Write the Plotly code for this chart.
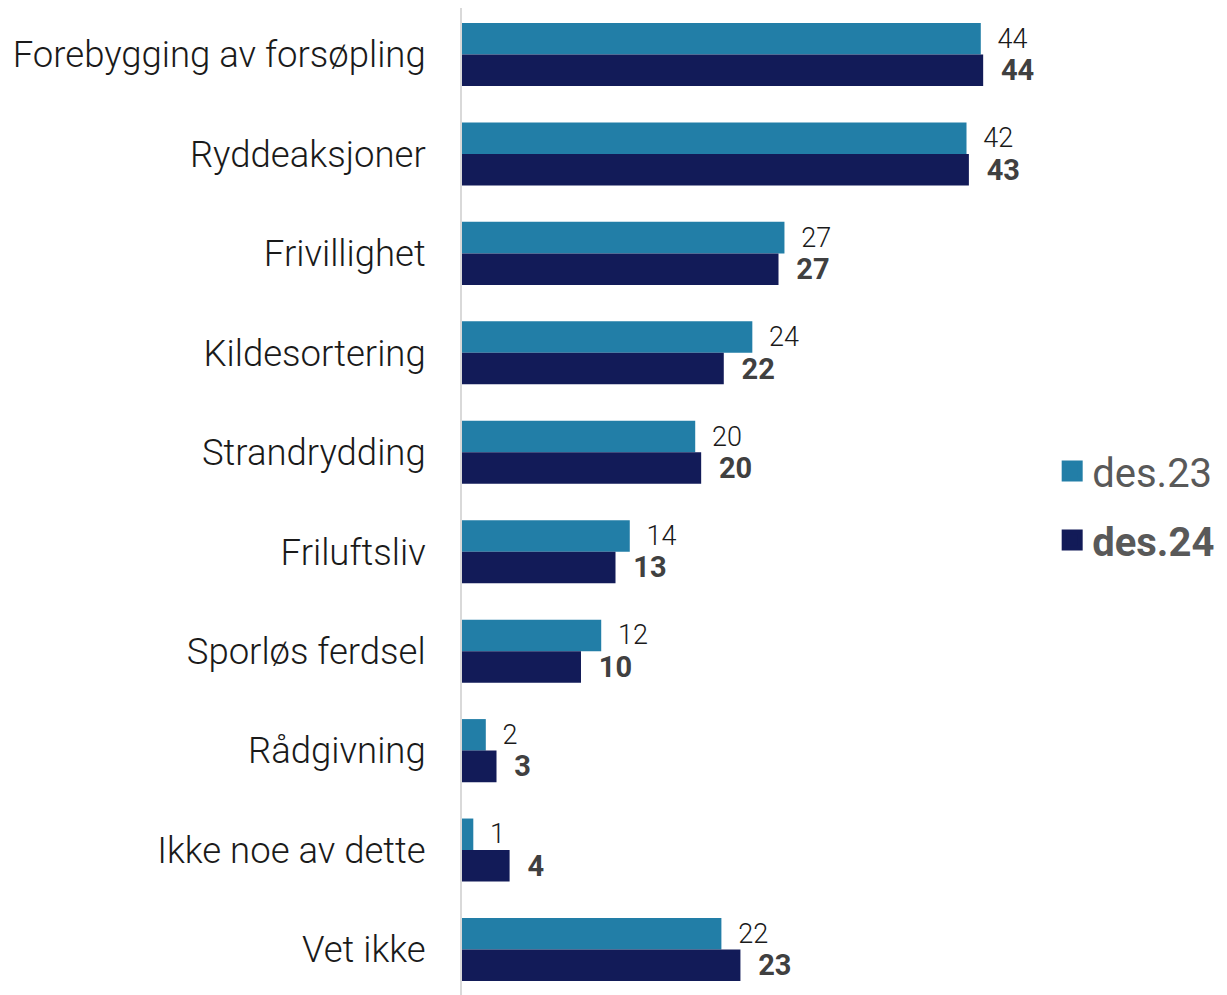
import plotly.graph_objects as go

categories = ["Forebygging av forsøpling", "Ryddeaksjoner", "Frivillighet", "Kildesortering",
              "Strandrydding", "Friluftsliv", "Sporløs ferdsel", "Rådgivning",
              "Ikke noe av dette", "Vet ikke"]
des23 = [43.6, 42.4, 27.1, 24.4, 19.6, 14.1, 11.7, 2.0, 0.95, 21.8]
des24 = [43.8, 42.6, 26.6, 22.0, 20.1, 12.9, 10.0, 2.9, 4.0, 23.4]
series_names = ["des.23", "des.24"]
colors = ["#227EA7", "#121B58"]

fig = go.Figure()
fig.add_trace(go.Bar(
    y=categories, x=des23, orientation="h", name=series_names[0],
    marker=dict(color=colors[0], line=dict(width=0)),
    texttemplate="\u2002%{x:.0f}", textposition="outside", constraintext="none",
    cliponaxis=False,
    textfont=dict(family="Roboto", size=27, color="#1a1a1a", weight=300),
    showlegend=False, hoverinfo="skip"))
fig.add_trace(go.Bar(
    y=categories, x=des24, orientation="h", name=series_names[1],
    marker=dict(color=colors[1], line=dict(width=0)),
    texttemplate="\u2002%{x:.0f}", textposition="outside", constraintext="none",
    cliponaxis=False,
    textfont=dict(family="Roboto", size=29, color="#404040", weight=700),
    showlegend=False, hoverinfo="skip"))

# legend entries
fig.add_trace(go.Scatter(x=[None], y=[None], mode="markers", name=series_names[0],
                         marker=dict(symbol="square", size=16, color=colors[0],
                                     line=dict(width=5, color=colors[0])),
                         legendgroup="a"))
fig.add_trace(go.Scatter(x=[None], y=[None], mode="markers", name="<b>" + series_names[1] + "</b>",
                         marker=dict(symbol="square", size=16, color=colors[1],
                                     line=dict(width=5, color=colors[1])),
                         legendgroup="b"))

fig.update_layout(
    width=1227, height=995,
    margin=dict(l=454, r=194, t=0, b=0),
    paper_bgcolor="white", plot_bgcolor="white",
    barmode="group", bargap=0.366, bargroupgap=0,
    xaxis=dict(range=[0, 48.66], visible=False, showgrid=False, zeroline=False),
    yaxis=dict(categoryorder="array", categoryarray=categories,
               range=[9.538, -0.4676], showgrid=False, zeroline=False,
               showline=True, linecolor="#d9d9d9", linewidth=2,
               ticks="", ticklabelstandoff=27,
               tickfont=dict(family="Roboto", size=36.5, color="#1a1a1a", weight=300)),
    legend=dict(xref="container", yref="container", x=0.851, y=0.50,
                xanchor="left", yanchor="middle",
                font=dict(family="Roboto", size=40, color="#595959"),
                tracegroupgap=14, bgcolor="rgba(0,0,0,0)"),
    showlegend=True,
)

fig.write_html("out.html")
